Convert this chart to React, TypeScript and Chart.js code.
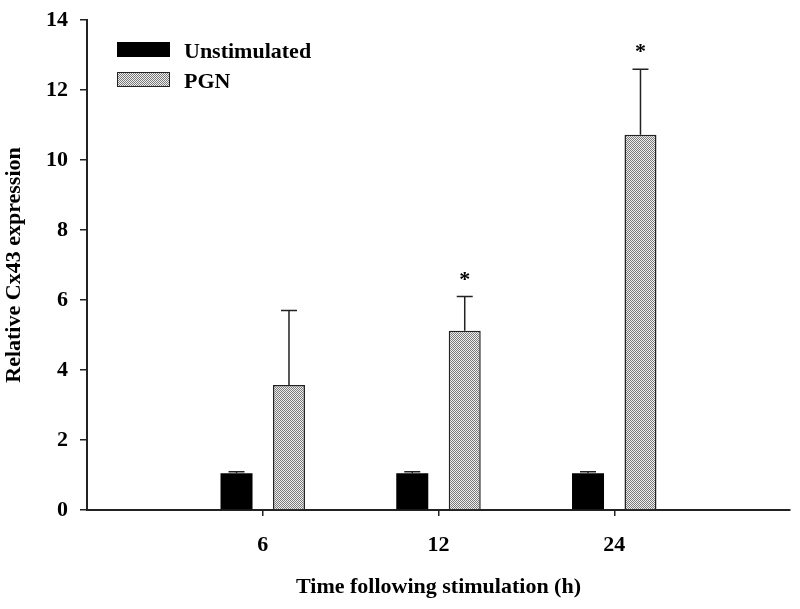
import React, { useEffect, useRef } from 'react';
import { Chart, registerables } from 'chart.js';
Chart.register(...registerables);

const categories = ['', '6', '12', '24', ''];
const seriesNames = ['Unstimulated', 'PGN'];
const unstimulated = [null, 1.05, 1.05, 1.05, null];
const unstimulatedErr = [null, 0.04, 0.04, 0.04, null];
const pgn = [null, 3.57, 5.12, 10.72, null];
const pgnErr = [null, 2.13, 0.98, 1.87, null];
const pgnSignificance = ['', '', '*', '*', ''];
const yMin = 0;
const yMax = 14;
const yStep = 2;
const xTitle = 'Time following stimulation (h)';
const yTitle = 'Relative Cx43 expression';

const FONT = "'Liberation Serif', 'Times New Roman', serif";

function makePattern(): CanvasPattern | string {
  const c = document.createElement('canvas');
  c.width = 2;
  c.height = 2;
  const g = c.getContext('2d');
  if (!g) return '#bbb';
  g.fillStyle = '#efefef';
  g.fillRect(0, 0, 2, 2);
  g.fillStyle = '#7a7a7a';
  g.fillRect(0, 0, 1, 1);
  g.fillRect(1, 1, 1, 1);
  const p = g.createPattern(c, 'repeat');
  return p || '#bbb';
}

const errorBarPlugin = {
  id: 'errorBars',
  afterDatasetsDraw(chart: any) {
    const ctx = chart.ctx;
    const y = chart.scales.y;
    chart.data.datasets.forEach((ds: any, di: number) => {
      const meta = chart.getDatasetMeta(di);
      meta.data.forEach((bar: any, i: number) => {
        const v = ds.data[i];
        const e = ds.errors ? ds.errors[i] : null;
        if (v == null || e == null) return;
        const p = bar.getProps(['x', 'y', 'width'], true);
        const top = y.getPixelForValue(v + e);
        const half = p.width / 4;
        ctx.save();
        ctx.strokeStyle = '#222';
        ctx.lineWidth = 1.5;
        ctx.beginPath();
        ctx.moveTo(p.x, p.y);
        ctx.lineTo(p.x, top);
        ctx.moveTo(p.x - half, top);
        ctx.lineTo(p.x + half, top);
        ctx.stroke();
        const mark = ds.marks ? ds.marks[i] : '';
        if (mark) {
          ctx.fillStyle = '#000';
          ctx.font = `bold 22px ${FONT}`;
          ctx.textAlign = 'center';
          ctx.textBaseline = 'alphabetic';
          ctx.fillText(mark, p.x, top - 11);
        }
        ctx.restore();
      });
    });
  },
};

const legendPlugin = {
  id: 'insideLegend',
  afterDraw(chart: any) {
    const ctx = chart.ctx;
    const area = chart.chartArea;
    const x0 = area.left + 30;
    let y0 = area.top + 22;
    chart.data.datasets.forEach((ds: any) => {
      ctx.save();
      ctx.fillStyle = ds.backgroundColor;
      ctx.fillRect(x0, y0, 53, 15);
      if (ds.borderWidth) {
        ctx.strokeStyle = '#222';
        ctx.lineWidth = 1;
        ctx.strokeRect(x0 + 0.5, y0 + 0.5, 52, 14);
      }
      ctx.fillStyle = '#000';
      ctx.font = `bold 22px ${FONT}`;
      ctx.textAlign = 'left';
      ctx.textBaseline = 'alphabetic';
      ctx.fillText(ds.label, x0 + 67, y0 + 16);
      ctx.restore();
      y0 += 30;
    });
  },
};

export default function App() {
  const ref = useRef<HTMLCanvasElement | null>(null);
  useEffect(() => {
    document.body.style.margin = '0';
    if (!ref.current) return;
    const pattern = makePattern();
    const chart = new Chart(ref.current, {
      type: 'bar',
      data: {
        labels: categories,
        datasets: [
          {
            label: seriesNames[0],
            data: unstimulated,
            backgroundColor: '#000',
            borderWidth: 0,
            errors: unstimulatedErr,
            categoryPercentage: 0.597,
            barPercentage: 0.61,
          } as any,
          {
            label: seriesNames[1],
            data: pgn,
            backgroundColor: pattern,
            borderColor: '#222',
            borderWidth: 1.5,
            errors: pgnErr,
            marks: pgnSignificance,
            categoryPercentage: 0.597,
            barPercentage: 0.61,
          } as any,
        ],
      },
      options: {
        animation: false,
        responsive: true,
        maintainAspectRatio: false,
        layout: { padding: { top: 20, right: 10, left: 0, bottom: 0 } },
        plugins: {
          legend: { display: false },
          tooltip: { enabled: false },
        },
        scales: {
          x: {
            type: 'category',
            offset: false,
            grid: {
              offset: false,
              drawOnChartArea: false,
              drawTicks: true,
              tickLength: 6,
              lineWidth: 1.5,
              color: (c: any) => (c.index >= 1 && c.index <= 3 ? '#222' : 'rgba(0,0,0,0)'),
            },
            border: { display: true, color: '#222', width: 2 },
            ticks: {
              color: '#000',
              font: { family: FONT, size: 22, weight: 'bold' },
              padding: 16,
              maxRotation: 0,
              autoSkip: false,
            },
            title: {
              display: true,
              text: xTitle,
              color: '#000',
              font: { family: FONT, size: 22, weight: 'bold' },
              padding: { top: 0, bottom: 8 },
            },
            afterFit: (s: any) => {
              s.height = 99;
              s.paddingLeft = 0;
              s.paddingRight = 0;
            },
          },
          y: {
            min: yMin,
            max: yMax,
            ticks: {
              stepSize: yStep,
              color: '#000',
              font: { family: FONT, size: 22, weight: 'bold' },
              padding: 12,
            },
            grid: {
              drawOnChartArea: false,
              drawTicks: true,
              tickLength: 7,
              lineWidth: 1.5,
              color: '#222',
            },
            border: { display: true, color: '#222', width: 2 },
            title: {
              display: true,
              text: yTitle,
              color: '#000',
              font: { family: FONT, size: 22, weight: 'bold' },
              padding: { top: 1, bottom: 0 },
            },
            afterFit: (s: any) => {
              s.width = 87;
              s.paddingTop = 0;
              s.paddingBottom = 0;
            },
          },
        },
      },
      plugins: [errorBarPlugin, legendPlugin],
    } as any);
    return () => chart.destroy();
  }, []);
  return (
    <div style={{ width: 800, height: 609, position: 'relative' }}>
      <canvas ref={ref} />
    </div>
  );
}
